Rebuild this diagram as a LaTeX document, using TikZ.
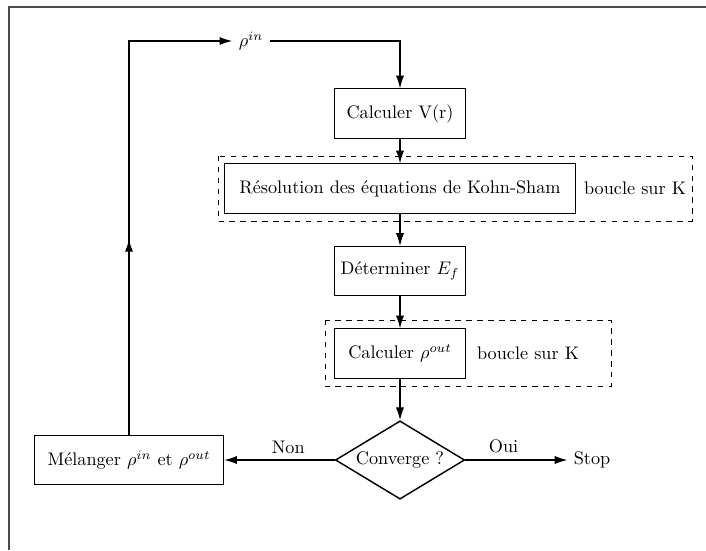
\documentclass[tikz,border=0pt]{standalone}
\usetikzlibrary{shapes.geometric,arrows.meta,decorations.markings}
\tikzset{
  caja/.style={draw, semithick, minimum width=72pt, minimum height=27pt},
  rombo/.style={draw, thick, shape=diamond, aspect=1.65, inner sep=0pt, minimum width=71pt, minimum height=43pt},
  flecha/.style={-{Latex[length=7pt,width=4.5pt]}, semithick},
  bucle/.style={draw, dashed, line width=0.5pt},
}
\begin{document}
\begin{tikzpicture}[x=0.0193cm,y=-0.0193cm]
        \useasboundingbox (0,0) rectangle (706,550);
        % Marco
        \draw[black!70, line width=0.8pt] (9,550) -- (9,7) -- (706,7);

        % Cajas
        \node[caja] (calcV) at (400,113.5) {Calculer V(r)};
        \node[caja, minimum width=193pt] (res) at (400,188.5) {Résolution des équations de Kohn-Sham};
        \node (bk1) at (635,188.5) {boucle sur K};
        \node[caja] (detEf) at (400,271) {Déterminer $E_f$};
        \node[caja] (calcRho) at (400,353.5) {Calculer $\rho^{out}$};
        \node (bk2) at (528,353.5) {boucle sur K};
        \node[rombo] (conv) at (400,460) {Converge ?};
        \node[caja, minimum width=104pt] (mel) at (129,460) {Mélanger $\rho^{in}$ et $\rho^{out}$};
        \node (stop) at (592,460) {Stop};
        \node (rhoin) at (251,41) {$\rho^{in}$};

        % Recuadros de los bucles
        \draw[bucle] (218,156) rectangle (692,221);
        \draw[bucle] (325,320) rectangle (611,386);

        % Flechas
        \draw[flecha] (rhoin.east) -| (calcV.north);
        \draw[flecha] (calcV) -- (res);
        \draw[flecha] (res) -- (detEf);
        \draw[flecha] (detEf) -- (calcRho);
        \draw[flecha] (calcRho) -- (conv);
        \draw[flecha] (conv) -- (mel) node[pos=0.42, above] {Non};
        \draw[flecha] (conv) -- (stop) node[pos=0.375, above] {Oui};

        % Retorno
        \draw[flecha, thick, postaction=decorate,
              decoration={markings, mark=at position 0.394 with {\arrow{Latex[length=7pt,width=4.5pt]}}}]
              (mel.north) |- (rhoin.west);
    \end{tikzpicture}
\end{document}
